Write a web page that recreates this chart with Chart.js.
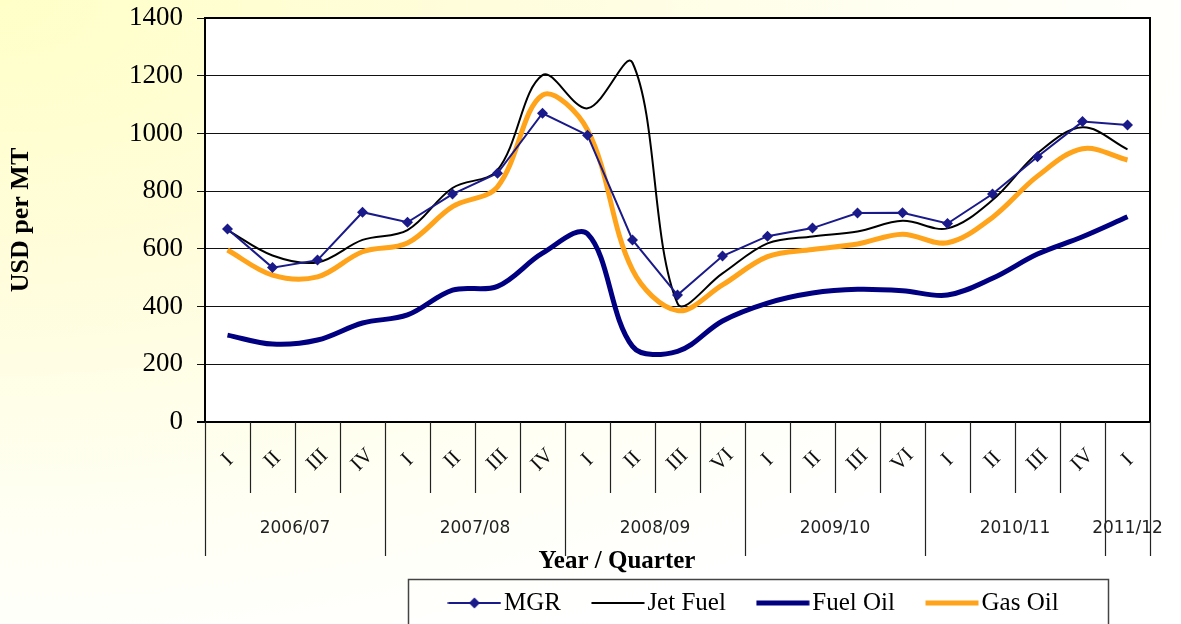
<!DOCTYPE html>
<html>
<head>
<meta charset="utf-8">
<script src="https://cdn.jsdelivr.net/npm/chart.js@4.4.0/dist/chart.umd.min.js"></script>
<style>
html, body { margin: 0; padding: 0; }
body {
    width: 1181px; height: 624px; overflow: hidden;
    background: radial-gradient(ellipse 1250px 700px at 0 0, #ffffc8 0%, #fffddc 40%, #fffff4 75%, #ffffff 100%);
}
</style>
</head>
<body>
<canvas id="chart" width="1181" height="624"></canvas>
<script>
// quarters and the financial years they belong to
var quarters = ['I', 'II', 'III', 'IV', 'I', 'II', 'III', 'IV', 'I', 'II', 'III', 'VI',
    'I', 'II', 'III', 'VI', 'I', 'II', 'III', 'IV', 'I'];
var years = ['2006/07', '2007/08', '2008/09', '2009/10', '2010/11', '2011/12'];
var yearSpans = [4, 4, 4, 4, 4, 1];

// USD per MT
var mgr = [669, 535, 561, 727, 692, 790, 862, 1070, 994, 631, 440, 575,
    644, 672, 724, 725, 688, 790, 919, 1041, 1029];
var jetFuel = [665, 577, 553, 631, 665, 811, 873, 1202, 1087, 1245, 411, 515,
    619, 643, 660, 697, 671, 769, 931, 1021, 945];
var fuelOil = [301, 270, 284, 343, 371, 457, 470, 585, 652, 262, 245, 350,
    412, 447, 460, 455, 440, 498, 582, 642, 711];
var gasOil = [596, 509, 503, 590, 620, 746, 815, 1133, 1012, 527, 386, 475,
    573, 598, 617, 651, 621, 709, 852, 947, 908];

var serif = '"Liberation Serif", "Times New Roman", serif';

function legendIcon(color, width, diamond) {
    var c = document.createElement('canvas');
    c.width = 54;
    c.height = 14;
    var g = c.getContext('2d');
    g.strokeStyle = color;
    g.lineWidth = width;
    g.beginPath();
    g.moveTo(0.5, 7);
    g.lineTo(53.5, 7);
    g.stroke();
    if (diamond) {
        g.fillStyle = color;
        g.beginPath();
        g.moveTo(27, 1.5);
        g.lineTo(32.5, 7);
        g.lineTo(27, 12.5);
        g.lineTo(21.5, 7);
        g.closePath();
        g.fill();
    }
    return c;
}

var icons = [
    legendIcon('#1a1a8a', 2, true),
    legendIcon('#000000', 2, false),
    legendIcon('#000080', 5, false),
    legendIcon('#ffa31a', 5, false)
];

var decor = {
    id: 'decor',
    beforeDraw: function(chart) {
        var a = chart.chartArea;
        var ctx = chart.ctx;
        ctx.save();
        ctx.fillStyle = '#ffffff';
        ctx.fillRect(a.left, a.top, a.right - a.left, a.bottom - a.top);
        ctx.restore();
    },
    afterLayout: function(chart) {
        var lg = chart.legend;
        lg.left = 408;
        lg.right = 1108;
        lg.top = 603 - 40 - 12.5;
    },
    afterDraw: function(chart) {
        var a = chart.chartArea;
        var ctx = chart.ctx;
        var xs = chart.scales.x;
        ctx.save();

        // frame of the plot
        ctx.strokeStyle = '#000';
        ctx.lineWidth = 2;
        ctx.beginPath();
        ctx.moveTo(a.left, a.top);
        ctx.lineTo(a.right, a.top);
        ctx.lineTo(a.right, a.bottom);
        ctx.lineTo(a.left - 8, a.bottom);
        ctx.stroke();

        // two level category axis
        var step = xs.getPixelForValue(1) - xs.getPixelForValue(0);
        var bounds = [0];
        yearSpans.forEach(function(n) {
            bounds.push(bounds[bounds.length - 1] + n);
        });
        ctx.strokeStyle = '#222';
        ctx.lineWidth = 1.2;
        for (var i = 0; i <= quarters.length; i++) {
            var x = Math.round(xs.getPixelForValue(0) - step / 2 + i * step) + 0.5;
            var yEnd = bounds.indexOf(i) >= 0 ? 556 : 493;
            ctx.beginPath();
            ctx.moveTo(x, a.bottom);
            ctx.lineTo(x, yEnd);
            ctx.stroke();
        }

        ctx.fillStyle = '#111';
        ctx.font = '21px ' + serif;
        ctx.textAlign = 'center';
        ctx.textBaseline = 'middle';
        quarters.forEach(function(q, i) {
            ctx.save();
            ctx.translate(xs.getPixelForValue(i), 460);
            ctx.rotate(-Math.PI / 4);
            ctx.fillText(q, 0, 0);
            ctx.restore();
        });

        ctx.font = '17px "DejaVu Sans", sans-serif';
        ctx.fillStyle = '#222';
        years.forEach(function(y, k) {
            var x0 = xs.getPixelForValue(bounds[k]);
            var x1 = xs.getPixelForValue(bounds[k + 1] - 1);
            ctx.fillText(y, (x0 + x1) / 2, 529);
        });

        ctx.font = 'bold 25px ' + serif;
        ctx.fillStyle = '#000';
        ctx.fillText('Year / Quarter', 617, 562);

        // legend frame
        ctx.strokeStyle = '#444';
        ctx.lineWidth = 1.5;
        ctx.strokeRect(408.5, 579.5, 700, 60);
        ctx.restore();
    }
};

var ctx = document.getElementById('chart');

var chart = new Chart(ctx, {
    type: 'line',
    data: {
        labels: quarters,
        datasets: [
            {
                label: 'MGR',
                data: mgr,
                borderColor: '#1a1a8a',
                backgroundColor: '#1a1a8a',
                borderWidth: 2,
                tension: 0,
                pointStyle: 'rectRot',
                pointRadius: 5.5,
                pointBorderWidth: 0,
            },
            {
                label: 'Jet Fuel',
                data: jetFuel,
                borderColor: '#000000',
                borderWidth: 2,
                tension: 0.35,
                pointRadius: 0,
            },
            {
                label: 'Fuel Oil',
                data: fuelOil,
                borderColor: '#000080',
                borderWidth: 5,
                tension: 0.35,
                pointRadius: 0,
            },
            {
                label: 'Gas Oil',
                data: gasOil,
                borderColor: '#ffa31a',
                borderWidth: 5,
                tension: 0.35,
                pointRadius: 0,
            },
        ],
    },
    options: {
        responsive: false,
        animation: false,
        layout: { padding: { top: 18, right: 31, bottom: 0, left: 0 } },
        plugins: {
            tooltip: { enabled: false },
            legend: {
                position: 'bottom',
                labels: {
                    usePointStyle: true,
                    pointStyleWidth: 34,
                    padding: 40,
                    color: '#000',
                    font: { family: serif, size: 25 },
                    generateLabels: function(chart) {
                        return chart.data.datasets.map(function(ds, i) {
                            return {
                                text: ds.label,
                                pointStyle: icons[i],
                                datasetIndex: i,
                                lineWidth: 0,
                                fontColor: '#000',
                            };
                        });
                    },
                },
            },
        },
        scales: {
            x: {
                offset: true,
                ticks: { display: false },
                grid: { display: false },
                border: { display: false },
                afterFit: function(s) {
                    var lh = (s.chart.legend && s.chart.legend.height) || 75;
                    s.height = 202 - lh;
                },
            },
            y: {
                min: 0,
                max: 1400,
                ticks: {
                    stepSize: 200,
                    color: '#000',
                    padding: 14,
                    font: { family: serif, size: 27, lineHeight: 0.2 },
                    callback: function(v) {
                        return String(v);
                    },
                },
                grid: { color: '#111', lineWidth: 1, tickLength: 8 },
                border: { color: '#000', width: 2 },
                title: {
                    display: true,
                    text: 'USD per MT',
                    color: '#000',
                    font: { family: serif, size: 26, weight: 'bold' },
                    padding: { top: 6, bottom: 0 },
                },
                afterFit: function(s) {
                    s.width = 205;
                },
            },
        },
    },
    plugins: [decor],
});
</script>
</body>
</html>
